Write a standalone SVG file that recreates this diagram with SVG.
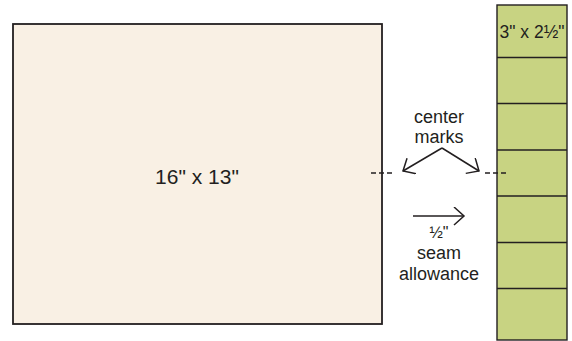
<svg xmlns="http://www.w3.org/2000/svg" width="572" height="341" viewBox="0 0 572 341">
<defs>
<style>
text{font-family:"Liberation Sans",Arial,sans-serif;fill:#231f20;text-anchor:middle}
.ln{stroke:#231f20;stroke-width:1.5;fill:none}
.dash{stroke:#231f20;stroke-width:1.4;stroke-dasharray:5 3;fill:none}
.div{stroke:#231f20;stroke-width:1.4}
</style>
<marker id="ah" markerWidth="14" markerHeight="20" refX="11" refY="9" orient="auto" markerUnits="userSpaceOnUse">
<path d="M1,0 L11,9 L1,18" fill="none" stroke="#231f20" stroke-width="1.5"/>
</marker>
</defs>
<g id="panel">
<rect x="13" y="24" width="369" height="300" fill="#f9f0e4" stroke="#231f20" stroke-width="1.8"/>
<text x="197" y="184" font-size="21">16" x 13"</text>
</g>
<g id="strip">
<rect x="497" y="5" width="70" height="335" fill="#c8d382" stroke="#231f20" stroke-width="1.4"/>
<line class="div" x1="497" y1="57.5" x2="567" y2="57.5"/>
<line class="div" x1="497" y1="103.5" x2="567" y2="103.5"/>
<line class="div" x1="497" y1="150" x2="567" y2="150"/>
<line class="div" x1="497" y1="196" x2="567" y2="196"/>
<line class="div" x1="497" y1="242.5" x2="567" y2="242.5"/>
<line class="div" x1="497" y1="288.5" x2="567" y2="288.5"/>
<text x="532" y="38" font-size="17.5">3" x 2½"</text>
</g>
<g id="labels">
<text x="439" y="123" font-size="18">center</text>
<text x="439" y="143" font-size="18">marks</text>
<text x="439" y="238" font-size="16">½"</text>
<text x="439" y="259" font-size="18">seam</text>
<text x="439" y="280" font-size="18">allowance</text>
</g>
<g id="connectors">
<line class="dash" x1="371" y1="173" x2="395" y2="173"/>
<line class="dash" x1="485" y1="173" x2="509" y2="173"/>
<path class="ln" d="M442,148 L403,171" marker-end="url(#ah)"/>
<path class="ln" d="M442,148 L479,171" marker-end="url(#ah)"/>
<path class="ln" d="M413,216 L464,216" marker-end="url(#ah)"/>
</g>
</svg>
